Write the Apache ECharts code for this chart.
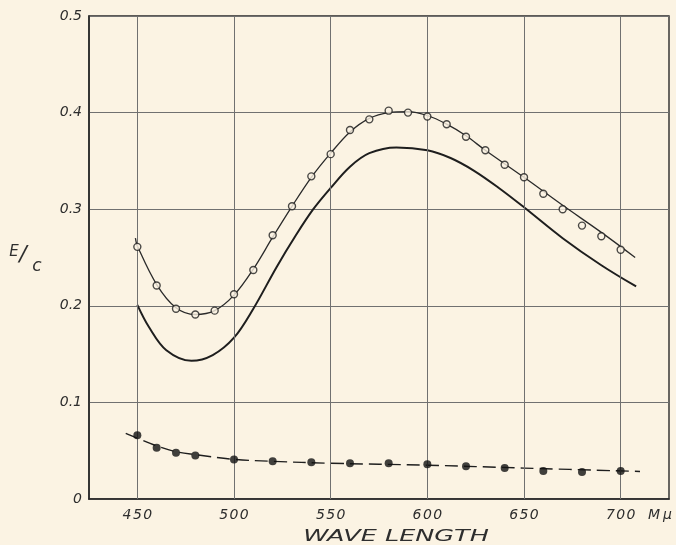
<!DOCTYPE html>
<html>
<head>
<meta charset="utf-8">
<script src="https://cdn.jsdelivr.net/npm/echarts@6/dist/echarts.min.js"></script>
<style>
html,body{margin:0;padding:0;background:#FBF3E3;}
#c{width:676px;height:545px;}
</style>
</head>
<body>
<div id="c"></div>
<script>
// Tick values
var xTicks = [450, 500, 550, 600, 650, 700];
var yTicks = [0, 0.1, 0.2, 0.3, 0.4, 0.5];

// Open circles (measured points, upper)
var openX = [450,460,470,480,490,500,510,520,530,540,550,560,570,580,590,600,610,620,630,640,650,660,670,680,690,700];
var openY = [0.261,0.221,0.197,0.191,0.195,0.212,0.237,0.273,0.303,0.334,0.357,0.382,0.393,0.402,0.400,0.396,0.388,0.375,0.361,0.346,0.333,0.316,0.300,0.283,0.272,0.258];

// Smooth curve through open circles
var upCurveX = [449,450,460,470,480,490,500,510,520,530,540,550,560,570,580,590,600,610,620,630,650,670,690,707.5];
var upCurveY = [0.270,0.262,0.222,0.198,0.191,0.195,0.211,0.238,0.271,0.303,0.333,0.358,0.380,0.394,0.400,0.401,0.397,0.388,0.376,0.361,0.333,0.304,0.276,0.250];

// Lower solid curve (no markers)
var lowCurveX = [450,456,465,478,489,500,510,522,532,541,550,560,570,584,600,612,624,637,650,670,690,708];
var lowCurveY = [0.201,0.178,0.154,0.143,0.149,0.167,0.197,0.240,0.273,0.300,0.322,0.344,0.358,0.364,0.361,0.353,0.340,0.322,0.302,0.270,0.242,0.220];

// Filled dots (bottom)
var dotX = [450,460,470,480,500,520,540,560,580,600,620,640,660,680,700];
var dotY = [0.066,0.053,0.048,0.045,0.041,0.039,0.038,0.037,0.037,0.036,0.034,0.032,0.029,0.028,0.029];

// Dashed curve through filled dots
var dashCurveX = [444,450,460,470,480,500,520,550,600,650,710];
var dashCurveY = [0.068,0.063,0.055,0.049,0.046,0.041,0.039,0.037,0.035,0.032,0.0285];

function zip(a, b) { return a.map(function (v, i) { return [v, b[i]]; }); }

var BG = '#FBF3E3';
var INK = '#2a2a2a';
var TXT = '#2e2e2e';
var FONT = 'DejaVu Sans';

var chart = echarts.init(document.getElementById('c'), null, {renderer: 'canvas'});
chart.setOption({
  backgroundColor: BG,
  animation: false,
  grid: {left: 89, right: 7, top: 16, bottom: 46, show: true, borderColor: INK, borderWidth: 1.4, backgroundColor: 'transparent'},
  xAxis: {
    type: 'value', min: 425, max: 725, interval: 25,
    axisLine: {show: true, lineStyle: {color: INK, width: 1.6}},
    axisTick: {show: false},
    splitLine: {show: false},
    axisLabel: {
      margin: 9, color: TXT, fontFamily: FONT, fontStyle: 'italic', fontSize: 14,
      formatter: function (v) { return xTicks.indexOf(v) >= 0 ? String(v).split('').join('\u200a') : ''; }
    }
  },
  yAxis: {
    type: 'value', min: 0, max: 0.5, interval: 0.1,
    axisLine: {show: true, lineStyle: {color: INK, width: 1.6}},
    axisTick: {show: false},
    splitLine: {show: true, lineStyle: {color: '#707070', width: 1}},
    axisLabel: {
      margin: 7, color: TXT, fontFamily: FONT, fontStyle: 'italic', fontSize: 14,
      formatter: function (v) {
        var t = yTicks.filter(function (k) { return Math.abs(k - v) < 1e-9; })[0];
        if (t === undefined) return '';
        return t === 0 ? '0' : t.toFixed(1);
      }
    }
  },
  series: [
    {
      type: 'line', data: [], silent: true,
      markLine: {
        silent: true, symbol: 'none', label: {show: false},
        lineStyle: {color: '#707070', width: 1, type: 'solid'},
        data: xTicks.map(function (v) { return {xAxis: v}; })
      },
      z: 1
    },
    {
      type: 'line', data: zip(upCurveX, upCurveY), smooth: 0.35, showSymbol: false, silent: true,
      lineStyle: {color: INK, width: 1.3}, z: 3
    },
    {
      type: 'line', data: zip(lowCurveX, lowCurveY), smooth: 0.35, showSymbol: false, silent: true,
      lineStyle: {color: '#1e1e1e', width: 2}, z: 3
    },
    {
      type: 'line', data: zip(dashCurveX, dashCurveY), smooth: 0.35, showSymbol: false, silent: true,
      lineStyle: {color: '#1e1e1e', width: 1.4, type: [13, 6]}, z: 3
    },
    {
      type: 'scatter', data: zip(openX, openY), symbol: 'circle', symbolSize: 7,
      itemStyle: {color: BG, borderColor: '#1e1e1e', borderWidth: 1.4}, z: 5
    },
    {
      type: 'scatter', data: zip(dotX, dotY), symbol: 'circle', symbolSize: 8,
      itemStyle: {color: '#111'}, z: 5
    }
  ],
  graphic: [
    {type: 'text', x: 648, y: 515, style: {text: 'M\u2009\u03bc', fill: TXT, font: 'italic 14px "DejaVu Sans"', verticalAlign: 'middle', align: 'left'}},
    {type: 'text', x: 396, y: 537, scaleX: 1.7, style: {text: 'WAVE LENGTH', fill: TXT, font: 'italic 15px "DejaVu Sans"', verticalAlign: 'middle', align: 'center'}},
    {type: 'text', x: 14, y: 252, style: {text: 'E', fill: TXT, font: 'italic 15px "DejaVu Sans"', verticalAlign: 'middle', align: 'center'}},
    {type: 'text', x: 23, y: 255, style: {text: '/', fill: TXT, font: 'italic 22px "DejaVu Sans"', verticalAlign: 'middle', align: 'center'}},
    {type: 'text', x: 37, y: 267, style: {text: 'c', fill: TXT, font: 'italic 17px "DejaVu Sans"', verticalAlign: 'middle', align: 'center'}}
  ]
});
</script>
</body>
</html>
